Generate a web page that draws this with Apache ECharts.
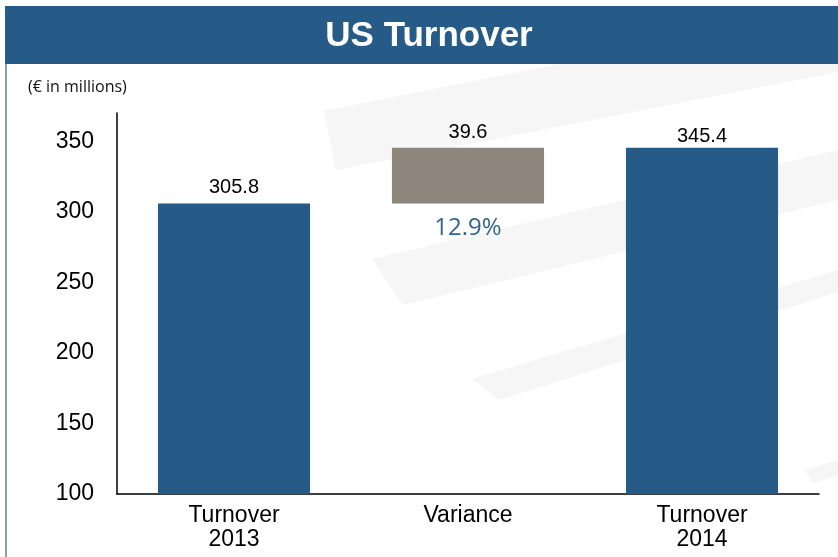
<!DOCTYPE html>
<html>
<head>
<meta charset="utf-8">
<script src="https://cdn.jsdelivr.net/npm/echarts@6/dist/echarts.min.js"></script>
<style>
html,body{margin:0;padding:0;background:#fff;}
#chart{width:838px;height:557px;}
</style>
</head>
<body>
<div id="chart"></div>
<script>
// ---- data ----
const categories = ['Turnover\n2013', 'Variance', 'Turnover\n2014'];
const baseValues = [0, 305.8, 0];          // invisible offset for waterfall
const totalValues = [305.8, '-', 345.4];   // turnover bars
const varianceValues = ['-', 39.6, '-'];   // variance block
const percentLabels = ['', '12.9%', ''];
const yTicks = [100, 150, 200, 250, 300, 350];

const chart = echarts.init(document.getElementById('chart'));

const stripe = '#f6f6f6';
const sans = '"Liberation Sans", Arial, sans-serif';
chart.setOption({
  animation: false,
  backgroundColor: '#ffffff',
  graphic: [
    // faint watermark stripes
    { type: 'polygon', z: 0, shape: { points: [[324,111],[560,64],[838,64],[838,72],[336,170]] }, style: { fill: stripe } },
    { type: 'polygon', z: 0, shape: { points: [[372,259],[838,150],[838,200],[403,305]] }, style: { fill: stripe } },
    { type: 'polygon', z: 0, shape: { points: [[472,379],[838,270],[838,292],[499,400]] }, style: { fill: stripe } },
    { type: 'polygon', z: 0, shape: { points: [[805,470],[838,460],[838,476],[812,483]] }, style: { fill: stripe } },
    // title band
    { type: 'rect', z: 1, shape: { x: 5, y: 6, width: 833, height: 58 }, style: { fill: '#265b88' } },
    { type: 'text', z: 2, x: 429, y: 36, style: { text: 'US Turnover', fill: '#ffffff', font: 'bold 35px ' + sans, align: 'center', verticalAlign: 'middle' } },
    // left border line
    { type: 'line', z: 1, shape: { x1: 6, y1: 64, x2: 6, y2: 557 }, style: { stroke: '#5b82b0', lineWidth: 1.5 } },
    // unit note
    { type: 'text', z: 2, x: 28, y: 87, style: { text: '(€ in millions)', fill: '#111111', font: '16px "Open Sans", sans-serif', verticalAlign: 'middle' } }
  ],
  grid: { left: 117, right: 19, top: 113, bottom: 63, containLabel: false },
  xAxis: {
    type: 'category',
    data: categories,
    axisLine: { lineStyle: { color: '#000', width: 1.5 } },
    axisTick: { show: false },
    axisLabel: { color: '#000', fontSize: 23, fontFamily: sans, lineHeight: 24, margin: 10 }
  },
  yAxis: {
    type: 'value',
    min: 100,
    max: 370,
    interval: 50,
    splitLine: { show: false },
    axisLine: { show: true, lineStyle: { color: '#000', width: 1.5 } },
    axisTick: { show: false },
    axisLabel: {
      color: '#000', fontSize: 23, fontFamily: sans, margin: 23,
      showMaxLabel: false,
      formatter: v => (yTicks.indexOf(v) >= 0 ? String(v) : '')
    }
  },
  series: [
    {
      name: 'base', type: 'bar', stack: 'w', data: baseValues, barWidth: '65%',
      itemStyle: { color: 'transparent' },
      label: {
        show: true, position: 'insideTop', distance: 13,
        formatter: p => percentLabels[p.dataIndex],
        color: '#2f6496', fontSize: 24, fontFamily: '"Open Sans", sans-serif'
      },
      z: 3
    },
    {
      name: 'variance', type: 'bar', stack: 'w', data: varianceValues, barWidth: '65%',
      itemStyle: { color: '#8e857c' },
      label: { show: true, position: 'top', distance: 5, color: '#000', fontSize: 20, fontFamily: sans },
      z: 3
    },
    {
      name: 'turnover', type: 'bar', stack: 'w',
      data: totalValues.map((v, i) => (i === 2 ? { value: v, label: { distance: 1 } } : v)),
      barWidth: '65%',
      itemStyle: { color: '#265b88' },
      label: { show: true, position: 'top', distance: 6, color: '#000', fontSize: 20, fontFamily: sans },
      z: 3
    }
  ]
});
</script>
</body>
</html>
